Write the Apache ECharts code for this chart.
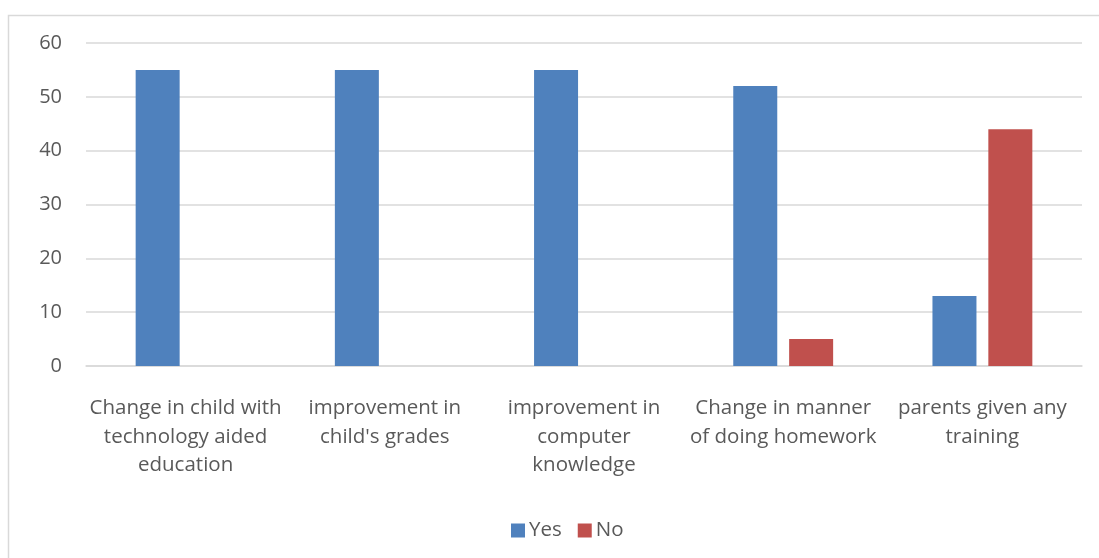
<!DOCTYPE html>
<html>
<head>
<meta charset="utf-8">
<script src="https://cdn.jsdelivr.net/npm/echarts@6/dist/echarts.min.js"></script>
<style>
html,body{margin:0;padding:0;background:#fff;}
#c{width:1099px;height:558px;}
</style>
</head>
<body>
<div id="c"></div>
<script>
const categories = [
  "Change in child with\ntechnology aided\neducation",
  "improvement in\nchild's grades",
  "improvement in\ncomputer\nknowledge",
  "Change in manner\nof doing homework",
  "parents given any\ntraining"
];
const yesValues = [55, 55, 55, 52, 13];
const noValues = [null, null, null, 5, 44];
const yTicks = [0, 10, 20, 30, 40, 50, 60];

const chart = echarts.init(document.getElementById('c'));
const font = "'Open Sans', 'DejaVu Sans', sans-serif";
chart.setOption({
  animation: false,
  textStyle: {fontFamily: font},
  graphic: [{
    type: 'rect',
    shape: {x: 8.5, y: 15.5, width: 1200, height: 1000},
    style: {fill: 'none', stroke: '#d9d9d9', lineWidth: 1.5},
    silent: true, z: -10
  }],
  grid: {left: 86, right: 17, top: 43, bottom: 192},
  legend: {
    bottom: 12,
    left: 506,
    itemWidth: 14, itemHeight: 14, itemGap: 16,
    icon: 'rect',
    textStyle: {fontSize: 20.5, color: '#595959', fontFamily: font, padding: [0, 0, 0, -1]},
    data: ['Yes', 'No']
  },
  xAxis: {
    type: 'category',
    data: categories,
    axisLine: {lineStyle: {color: '#d9d9d9', width: 1.5}},
    axisTick: {show: false},
    axisLabel: {fontSize: 20.5, color: '#595959', lineHeight: 28.5, margin: 28, interval: 0, fontFamily: font}
  },
  yAxis: {
    type: 'value',
    min: yTicks[0], max: yTicks[yTicks.length - 1], interval: 10,
    axisLine: {show: false},
    axisTick: {show: false},
    splitLine: {lineStyle: {color: '#d9d9d9', width: 1.5}},
    axisLabel: {fontSize: 20, color: '#595959', margin: 24, fontFamily: font}
  },
  series: [
    {name: 'Yes', type: 'bar', data: yesValues, barWidth: 44, barGap: '27%',
     itemStyle: {color: '#4F81BD'}},
    {name: 'No', type: 'bar', data: noValues, barWidth: 44, barGap: '27%',
     itemStyle: {color: '#C0504D'}}
  ]
});
</script>
</body>
</html>
